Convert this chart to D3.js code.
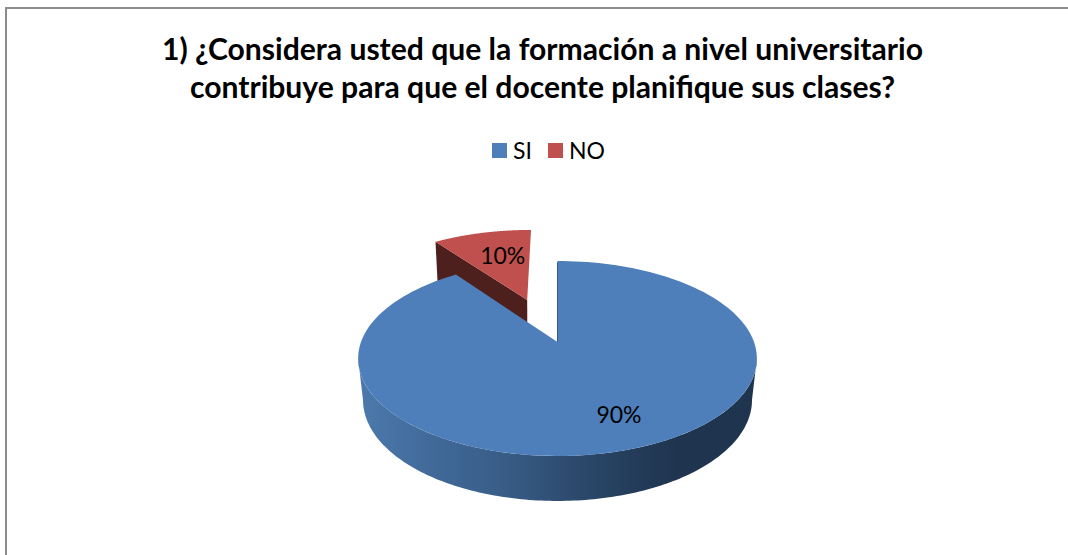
<!DOCTYPE html>
<html><head><meta charset="utf-8">
<style>html,body{margin:0;padding:0;background:#fff;overflow:hidden}svg{display:block}text{font-family:Lato,"Open Sans",sans-serif;fill:#000}</style>
<script src="https://cdnjs.cloudflare.com/ajax/libs/d3/7.8.5/d3.min.js"></script>
</head><body><svg id="c" width="1068" height="555"></svg>
<script>
const categories = ["SI", "NO"];
const seriesValues = [90, 10];
const titleLines = ["1) ¿Considera usted que la formación a nivel universitario", "contribuye para que el docente planifique sus clases?"];
const colors = ["#4e7fbb", "#c0504d"];
const wallRed = "#4d1f1d";
const wallStops = [[0,"#4c79ad"],[0.18,"#416a99"],[0.38,"#375b85"],[0.5,"#2f4e72"],[0.68,"#243d5b"],[0.8,"#1f344f"],[1,"#1f344f"]];

const svg = d3.select("#c");
const W = 1068, H = 555;
// frame
svg.append("path").attr("d", d3.line()([[6,H],[6,8],[W,8]])).attr("fill","none").attr("stroke","#8c8c8c").attr("stroke-width",2);
// title
svg.selectAll("text.title").data(titleLines).join("text").attr("class","title")
  .attr("x",542.5).attr("y",(d,i)=>60+i*38).attr("text-anchor","middle")
  .attr("font-size",30.1).attr("font-weight",700).text(d=>d);
// legend
const legendX = d3.scaleOrdinal().domain(categories).range([492,548]);
const col = d3.scaleOrdinal().domain(categories).range(colors);
const lg = svg.selectAll("g.lg").data(categories).join("g").attr("class","lg").attr("transform",d=>`translate(${legendX(d)},143)`);
lg.append("rect").attr("width",15).attr("height",15).attr("fill",d=>col(d));
lg.append("text").attr("x",21).attr("y",15.5).attr("font-size",23).text(d=>d);

// perspective projection of the unit disc: top and bottom faces
const k = 0.169;
const top_ = {x0:557.5, y0:342, a:196.5, b:94.7};
const bot = {x0:557.5, y0:382.9, a:191.7, b:98.1};
const botRed = {x0:557, y0:388.8, a:191.7, b:93.3};
const redShift = -2;
const proj = (p,u,v)=>{const d=1+k*v;return [p.x0+p.a*u/d,p.y0-p.b*v/d];};
const polar = (t,r=1,c=[0,0])=>[c[0]+r*Math.sin(t),c[1]+r*Math.cos(t)];
const line = d3.line();
const arcs = d3.pie().sort(null).startAngle(0).endAngle(2*Math.PI)(seriesValues);
const N = 160;
const arcPts = (a0,a1,c=[0,0])=>d3.range(N+1).map(i=>polar(a0+(a1-a0)*i/N,1,c));

const explode = 0.504;
const si = arcs[0], no = arcs[1];
const noMid = (no.startAngle+no.endAngle)/2;
const cNo = polar(noMid,explode);

const red = svg.append("g").attr("transform",`translate(${redShift},0)`);
// red cut wall
const wallEnds=[polar(no.startAngle,1,cNo),cNo];
red.append("path").attr("fill",wallRed).attr("d",line([
  proj(top_,...wallEnds[0]),proj(top_,...wallEnds[1]),proj(botRed,...wallEnds[1]),proj(botRed,...wallEnds[0])])+"Z");
// red top
red.append("path").attr("fill",colors[1]).attr("d",line([proj(top_,...cNo),...arcPts(no.startAngle,no.endAngle,cNo).map(p=>proj(top_,...p))])+"Z");

// blue wall gradient
const defs = svg.append("defs");
const grad = defs.append("linearGradient").attr("id","w").attr("gradientUnits","userSpaceOnUse").attr("x1",360).attr("x2",757).attr("y1",0).attr("y2",0);
grad.selectAll("stop").data(wallStops).join("stop").attr("offset",d=>d[0]).attr("stop-color",d=>d[1]);
// silhouette: front arc of both discs, joined at their side extremes
const front = arcPts(Math.PI/2+0.17,3*Math.PI/2-0.17);
const tf = front.map(p=>proj(top_,...p));
const bf = front.map(p=>proj(bot,...p));
svg.append("path").attr("fill","url(#w)").attr("d",line([...tf,...bf.reverse()])+"Z");
// blue cut edge
svg.append("path").attr("stroke","#1f344f").attr("stroke-width",1).attr("fill","none")
  .attr("d",line([proj(top_,0,0.98),proj(top_,0,0)]));
// blue top
svg.append("path").attr("fill",colors[0]).attr("d",line([proj(top_,0,0),...arcPts(si.startAngle,si.endAngle).map(p=>proj(top_,...p))])+"Z");

// labels
const siL = proj(top_,...polar((si.startAngle+si.endAngle)/2,0.72));
const noL = proj(top_,...polar(noMid,0.62,cNo));
const pct = d3.format(".0%"), total=d3.sum(seriesValues);
svg.append("text").attr("x",siL[0]+12).attr("y",siL[1]+8).attr("text-anchor","middle").attr("font-size",23).text(pct(seriesValues[0]/total));
svg.append("text").attr("x",noL[0]+3).attr("y",noL[1]+8).attr("text-anchor","middle").attr("font-size",23).text(pct(seriesValues[1]/total));
</script></body></html>
